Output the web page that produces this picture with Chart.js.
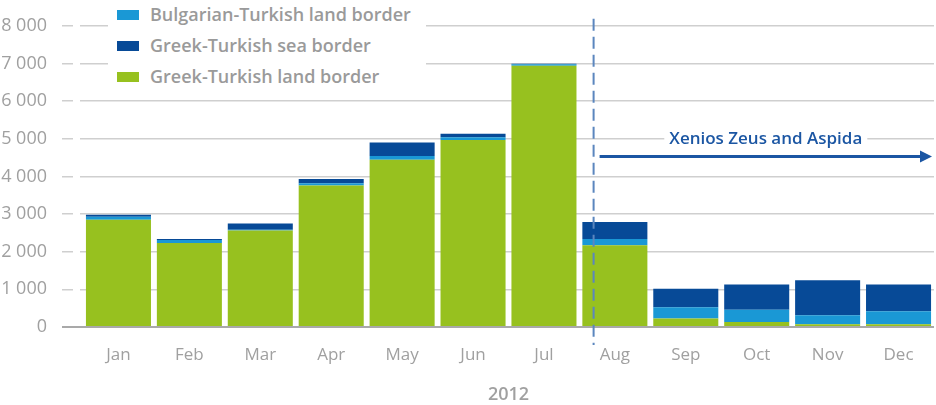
<!DOCTYPE html>
<html>
<head>
<meta charset="utf-8">
<script src="https://cdn.jsdelivr.net/npm/chart.js@4.4.1/dist/chart.umd.min.js"></script>
<style>
    html, body { margin: 0; padding: 0; background: #fff; }
    #wrap { position: relative; width: 936px; height: 405px; }
    #legend {
        position: absolute; left: 108px; top: 0; width: 318px; height: 100px;
        background: #fff; font-family: "Open Sans", sans-serif; font-weight: 600;
        font-size: 18px; color: #9a9a9a;
    }
    .item { position: absolute; left: 9px; height: 22px; line-height: 22px; }
    .swatch { position: absolute; left: 0; top: 5px; width: 22px; height: 10px; }
    .label { position: absolute; left: 33px; top: -2px; white-space: nowrap; }
</style>
</head>
<body>
<div id="wrap">
    <canvas id="chart" width="936" height="405"></canvas>
    <div id="legend"></div>
</div>
<script>
// Data
const months = ['Jan', 'Feb', 'Mar', 'Apr', 'May', 'Jun', 'Jul', 'Aug', 'Sep', 'Oct', 'Nov', 'Dec'];
const greekLand = [2850, 2230, 2560, 3760, 4440, 4970, 6940, 2170, 225, 130, 70, 70];
const bulgarianLand = [80, 80, 20, 60, 100, 70, 40, 170, 300, 330, 240, 350];
const greekSea = [50, 30, 170, 110, 360, 90, 10, 450, 490, 670, 930, 710];
const yTicks = [0, 1000, 2000, 3000, 4000, 5000, 6000, 7000, 8000];
const xTitle = '2012';
const operationLabel = 'Xenios Zeus and Aspida';

const colors = {
    land: '#97c11f',
    bulgarian: '#1a98d5',
    sea: '#074a97',
    grid: '#cfcfcf',
    text: '#a0a0a0',
    annot: '#1b56a3',
    marker: '#5b86be'
};

// Legend (top to bottom)
const legendItems = [
    { label: 'Bulgarian-Turkish land border', color: colors.bulgarian },
    { label: 'Greek-Turkish sea border', color: colors.sea },
    { label: 'Greek-Turkish land border', color: colors.land }
];
document.getElementById('legend').innerHTML = legendItems.map((it, i) => `
    <div class="item" style="top:${5 + i * 31}px">
        <span class="swatch" style="background:${it.color}"></span>
        <span class="label">${it.label}</span>
    </div>
`).join('');

// Vertical marker, arrow and label for the operation
const annotationPlugin = {
    id: 'operation',
    afterDatasetsDraw(chart) {
        const { ctx, chartArea, scales: { x, y } } = chart;
        const step = x.getPixelForValue(1) - x.getPixelForValue(0);
        const lineX = x.getPixelForValue(7) - step * 0.3;

        ctx.save();
        // dashed vertical line
        ctx.strokeStyle = colors.marker;
        ctx.lineWidth = 2;
        ctx.setLineDash([12, 6]);
        ctx.beginPath();
        ctx.moveTo(lineX, chartArea.top - 7);
        ctx.lineTo(lineX, chartArea.bottom + 18);
        ctx.stroke();

        // arrow
        const arrowY = y.getPixelForValue(4530);
        const x0 = lineX + 6;
        const x1 = chartArea.right - 2;
        ctx.setLineDash([]);
        ctx.strokeStyle = colors.annot;
        ctx.fillStyle = colors.annot;
        ctx.lineWidth = 3;
        ctx.beginPath();
        ctx.moveTo(x0, arrowY);
        ctx.lineTo(x1 - 10, arrowY);
        ctx.stroke();
        ctx.beginPath();
        ctx.moveTo(x1, arrowY);
        ctx.lineTo(x1 - 12, arrowY - 6);
        ctx.lineTo(x1 - 12, arrowY + 6);
        ctx.closePath();
        ctx.fill();

        // label with white background over the grid line
        ctx.font = '600 17px "Open Sans", sans-serif';
        ctx.textAlign = 'center';
        ctx.textBaseline = 'middle';
        const tx = (x0 + x1) / 2;
        const ty = y.getPixelForValue(5000);
        const w = ctx.measureText(operationLabel).width;
        ctx.fillStyle = '#fff';
        ctx.fillRect(tx - w / 2 - 5, ty - 11, w + 10, 22);
        ctx.fillStyle = colors.annot;
        ctx.fillText(operationLabel, tx, ty);
        ctx.restore();
    }
};

const ctx = document.getElementById('chart').getContext('2d');

new Chart(ctx, {
    type: 'bar',
    data: {
        labels: months,
        datasets: [
            { label: 'Greek-Turkish land border', data: greekLand, backgroundColor: colors.land },
            { label: 'Bulgarian-Turkish land border', data: bulgarianLand, backgroundColor: colors.bulgarian },
            { label: 'Greek-Turkish sea border', data: greekSea, backgroundColor: colors.sea }
        ]
    },
    options: {
        responsive: false,
        animation: false,
        layout: { padding: { top: 18, right: 2, left: 0, bottom: 0 } },
        datasets: {
            bar: { barPercentage: 0.917, categoryPercentage: 1, borderWidth: 0 }
        },
        plugins: {
            legend: { display: false },
            tooltip: { enabled: false }
        },
        scales: {
            x: {
                stacked: true,
                afterFit: (scale) => { scale.height = 78; },
                grid: { display: false },
                border: { display: false },
                ticks: {
                    color: colors.text,
                    padding: 10,
                    font: { family: '"Open Sans", sans-serif', size: 17 }
                },
                title: {
                    display: true,
                    text: xTitle,
                    color: colors.text,
                    padding: { top: 0, bottom: -1 },
                    font: { family: '"Open Sans", sans-serif', size: 18, weight: '600' }
                }
            },
            y: {
                stacked: true,
                min: 0,
                max: 8000,
                afterFit: (scale) => { scale.width = 83; },
                afterBuildTicks: (scale) => { scale.ticks = yTicks.map(v => ({ value: v })); },
                border: { display: false },
                grid: {
                    color: (c) => c.tick && c.tick.value === 0 ? '#a9a9a9' : colors.grid,
                    tickColor: (c) => c.tick && c.tick.value === 0 ? '#a9a9a9' : colors.grid,
                    lineWidth: (c) => c.tick && c.tick.value === 0 ? 2 : 1.5,
                    tickWidth: (c) => c.tick && c.tick.value === 0 ? 2 : 1.5,
                    borderDash: (c) => c.tick && c.tick.value === 0 ? [] : [11, 7],
                    tickBorderDash: (c) => c.tick && c.tick.value === 0 ? [] : [11, 7],
                    tickLength: 21
                },
                ticks: {
                    color: colors.text,
                    padding: 15,
                    font: { family: '"Open Sans", sans-serif', size: 18 },
                    callback: (v) => String(v).replace(/\B(?=(\d{3})+(?!\d))/g, ' ')
                }
            }
        }
    },
    plugins: [annotationPlugin]
});
</script>
</body>
</html>
